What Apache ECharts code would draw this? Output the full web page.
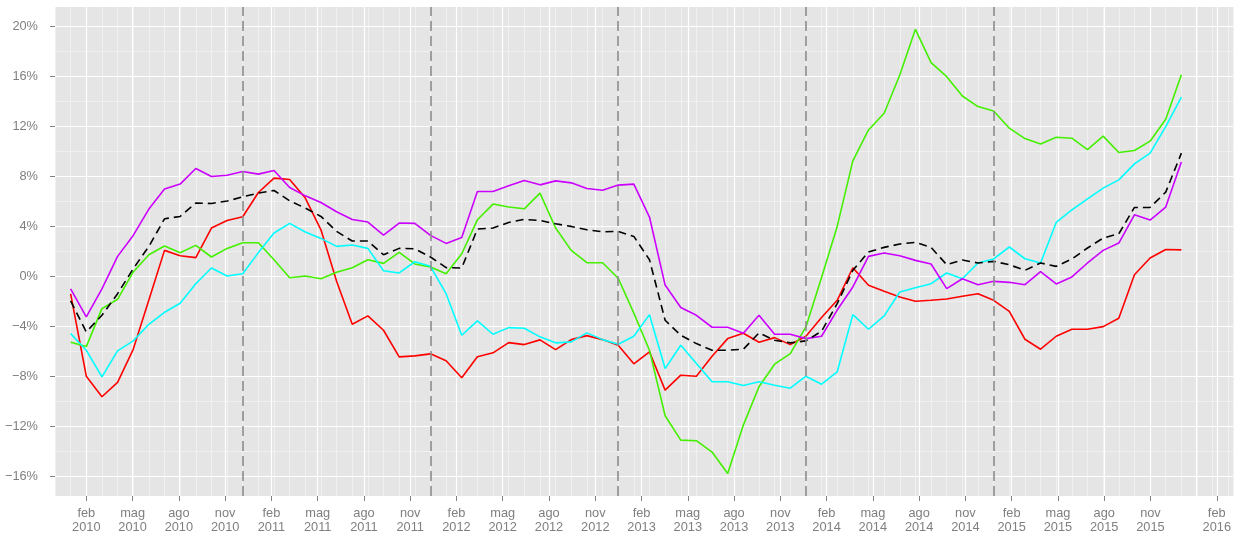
<!DOCTYPE html>
<html>
<head>
<meta charset="utf-8">
<script src="https://cdn.jsdelivr.net/npm/echarts@6/dist/echarts.min.js"></script>
<style>
  html, body { margin: 0; padding: 0; background: #ffffff; }
  #chart { width: 1234px; height: 539px; }
</style>
</head>
<body>
<div id="chart"></div>
<script>
// Monthly observations, Jan 2010 (index 0) .. Dec 2015 (index 71)
const red = [-1.4, -8.0, -9.65, -8.5, -5.85, -1.9, 2.08, 1.65, 1.5, 3.87, 4.48, 4.77,
  6.72, 7.87, 7.76, 6.27, 3.73, -0.4, -3.84, -3.17, -4.32, -6.45, -6.37, -6.21,
  -6.77, -8.13, -6.45, -6.13, -5.31, -5.47, -5.09, -5.87, -5.07, -4.75, -5.07, -5.52,
  -7.01, -6.05, -9.12, -7.92, -8.0, -6.4, -4.99, -4.56, -5.28, -4.91, -5.47, -4.8,
  -3.3, -1.92, 0.69, -0.72, -1.2, -1.65, -2.0, -1.92, -1.81, -1.6, -1.39, -1.92,
  -2.8, -5.04, -5.84, -4.8, -4.24, -4.24, -4.03, -3.36, 0.13, 1.47, 2.15, 2.12];
const green = [-5.28, -5.63, -2.59, -1.84, 0.35, 1.73, 2.43, 1.89, 2.48, 1.55, 2.24, 2.69,
  2.69, 1.33, -0.11, 0.03, -0.19, 0.32, 0.69, 1.33, 1.04, 1.92, 0.99, 0.75,
  0.21, 1.81, 4.53, 5.79, 5.55, 5.41, 6.67, 3.87, 2.08, 1.09, 1.09, -0.15,
  -2.95, -5.92, -11.17, -13.12, -13.17, -14.08, -15.79, -11.92, -8.85, -7.04, -6.19, -4.05,
  -0.1, 4.0, 9.25, 11.73, 13.07, 16.13, 19.79, 17.12, 16.0, 14.45, 13.6, 13.25,
  11.87, 11.04, 10.61, 11.15, 11.07, 10.16, 11.23, 9.92, 10.08, 10.83, 12.59, 16.16];
const cyan = [-4.59, -5.92, -8.05, -5.97, -5.17, -3.84, -2.88, -2.16, -0.59, 0.67, 0.03, 0.21,
  1.9, 3.47, 4.24, 3.55, 3.04, 2.4, 2.51, 2.24, 0.45, 0.27, 1.17, 0.8,
  -1.39, -4.72, -3.57, -4.64, -4.11, -4.16, -4.85, -5.33, -5.25, -4.53, -5.07, -5.44,
  -4.8, -3.07, -7.39, -5.52, -6.99, -8.45, -8.45, -8.75, -8.45, -8.72, -8.96, -8.0,
  -8.64, -7.65, -3.07, -4.24, -3.17, -1.25, -0.91, -0.59, 0.27, -0.19, 1.07, 1.39,
  2.35, 1.41, 1.07, 4.32, 5.33, 6.21, 7.07, 7.73, 9.01, 9.87, 12.0, 14.35];
const magenta = [-1.0, -3.25, -1.0, 1.6, 3.28, 5.39, 6.99, 7.39, 8.64, 8.0, 8.1, 8.4,
  8.19, 8.48, 7.12, 6.45, 5.92, 5.17, 4.56, 4.35, 3.31, 4.27, 4.24, 3.28,
  2.64, 3.12, 6.8, 6.8, 7.25, 7.68, 7.33, 7.65, 7.49, 7.04, 6.9, 7.31,
  7.39, 4.75, -0.7, -2.5, -3.12, -4.08, -4.08, -4.56, -3.12, -4.64, -4.64, -4.99,
  -4.8, -2.7, -0.85, 1.6, 1.87, 1.65, 1.28, 0.99, -0.99, -0.19, -0.67, -0.4,
  -0.48, -0.67, 0.37, -0.61, -0.05, 1.07, 2.08, 2.67, 4.93, 4.51, 5.55, 9.17];
const blackDashed = [-1.97, -4.45, -3.12, -1.39, 0.61, 2.4, 4.61, 4.8, 5.87, 5.84, 6.03, 6.37,
  6.67, 6.88, 6.05, 5.47, 4.8, 3.6, 2.83, 2.83, 1.73, 2.24, 2.21, 1.55,
  0.7, 0.67, 3.79, 3.87, 4.32, 4.56, 4.48, 4.21, 4.0, 3.73, 3.57, 3.6,
  3.2, 1.33, -3.52, -4.72, -5.39, -5.92, -5.92, -5.84, -4.53, -5.12, -5.33, -5.17,
  -4.4, -2.19, 0.48, 1.95, 2.32, 2.59, 2.72, 2.32, 0.93, 1.31, 1.07, 1.2,
  0.93, 0.48, 1.07, 0.8, 1.39, 2.27, 3.07, 3.41, 5.52, 5.52, 6.75, 9.87];

// x tick labels every 3 months starting Feb 2010
const xTickLabels = ['feb\n2010','mag\n2010','ago\n2010','nov\n2010',
  'feb\n2011','mag\n2011','ago\n2011','nov\n2011',
  'feb\n2012','mag\n2012','ago\n2012','nov\n2012',
  'feb\n2013','mag\n2013','ago\n2013','nov\n2013',
  'feb\n2014','mag\n2014','ago\n2014','nov\n2014',
  'feb\n2015','mag\n2015','ago\n2015','nov\n2015','feb\n2016'];
const yTickValues = [-16, -12, -8, -4, 0, 4, 8, 12, 16, 20];
// vertical dashed reference lines (month index: December of each year)
const vlineMonths = [11, 23, 35, 47, 59];

const FONT = '"Liberation Sans", Arial, sans-serif';
const GREY = '#7F7F7F';
const toPairs = arr => arr.map((v, i) => [i, v]);

const chart = echarts.init(document.getElementById('chart'), null, { renderer: 'canvas' });

const gridBottom = 43, gridTop = 7, gridLeft = 55, gridRight = 1;

const option = {
  animation: false,
  backgroundColor: '#ffffff',
  textStyle: { fontFamily: FONT },
  grid: [
    { left: gridLeft, right: gridRight, top: gridTop, bottom: gridBottom, show: true,
      backgroundColor: '#E5E5E5', borderWidth: 0, containLabel: false },
    { left: 86.34, right: gridRight, top: gridTop, bottom: gridBottom, show: false, containLabel: false },
    { left: gridLeft, right: gridRight, top: 26.7, bottom: 539 - 476.0, show: false, containLabel: false }
  ],
  xAxis: [
    { gridIndex: 0, type: 'value', min: -1, max: 74.3, interval: 1, z: 0,
      axisLine: { show: false, onZero: false }, axisTick: { show: false }, axisLabel: { show: false },
      splitLine: { show: true, lineStyle: { color: '#F2F2F2', width: 0.8 } } },
    { gridIndex: 1, type: 'value', min: 0, max: 73.3, interval: 3, z: 1,
      axisLine: { show: false, onZero: false },
      axisTick: { show: true, length: 5, lineStyle: { color: GREY, width: 1 } },
      axisLabel: { show: true, margin: 10, color: GREY, fontSize: 12.8, lineHeight: 14, fontFamily: FONT,
        showMinLabel: true, showMaxLabel: true,
        formatter: v => { const k = Math.round(v / 3); return xTickLabels[k] || ''; } },
      splitLine: { show: true, lineStyle: { color: '#FFFFFF', width: 1.2 } } },
    { gridIndex: 2, type: 'value', min: 0, max: 1, show: false }
  ],
  yAxis: [
    { gridIndex: 0, type: 'value', min: -17.6, max: 21.58, show: false },
    { gridIndex: 1, type: 'value', min: 0, max: 1, show: false },
    { gridIndex: 2, type: 'value', min: -16, max: 20, interval: 2, position: 'right', z: 0,
      axisLine: { show: false, onZero: false }, axisTick: { show: false }, axisLabel: { show: false },
      splitLine: { show: true, lineStyle: { color: '#F2F2F2', width: 0.8 } } },
    { gridIndex: 2, type: 'value', min: yTickValues[0], max: yTickValues[yTickValues.length - 1], interval: 4,
      position: 'left', z: 1,
      axisLine: { show: false, onZero: false },
      axisTick: { show: true, length: 5, lineStyle: { color: GREY, width: 1 } },
      axisLabel: { show: true, margin: 17, color: GREY, fontSize: 12.8, fontFamily: FONT,
        formatter: v => (v < 0 ? '\u2212' : '') + Math.abs(v) + '%' },
      splitLine: { show: true, lineStyle: { color: '#FFFFFF', width: 1.2 } } }
  ],
  series: [
    { type: 'line', xAxisIndex: 0, yAxisIndex: 0, data: [[0, 0]], symbol: 'none', silent: true, z: 2,
      lineStyle: { width: 0, opacity: 0 },
      markLine: { silent: true, symbol: ['none', 'none'], label: { show: false },
        lineStyle: { color: '#8C8C8C', width: 1.6, type: [10, 5] },
        data: vlineMonths.map(m => ({ xAxis: m })) } },
    { name: 'red', type: 'line', xAxisIndex: 0, yAxisIndex: 0, data: toPairs(red), symbol: 'none', z: 3,
      lineStyle: { color: '#FF0000', width: 1.6 } },
    { name: 'green', type: 'line', xAxisIndex: 0, yAxisIndex: 0, data: toPairs(green), symbol: 'none', z: 3,
      lineStyle: { color: '#44F000', width: 1.6 } },
    { name: 'cyan', type: 'line', xAxisIndex: 0, yAxisIndex: 0, data: toPairs(cyan), symbol: 'none', z: 3,
      lineStyle: { color: '#00FFFF', width: 1.6 } },
    { name: 'magenta', type: 'line', xAxisIndex: 0, yAxisIndex: 0, data: toPairs(magenta), symbol: 'none', z: 3,
      lineStyle: { color: '#CC00FF', width: 1.6 } },
    { name: 'black', type: 'line', xAxisIndex: 0, yAxisIndex: 0, data: toPairs(blackDashed), symbol: 'none', z: 4,
      lineStyle: { color: '#000000', width: 1.6, type: [8, 5] } }
  ]
};
chart.setOption(option);
</script>
</body>
</html>
